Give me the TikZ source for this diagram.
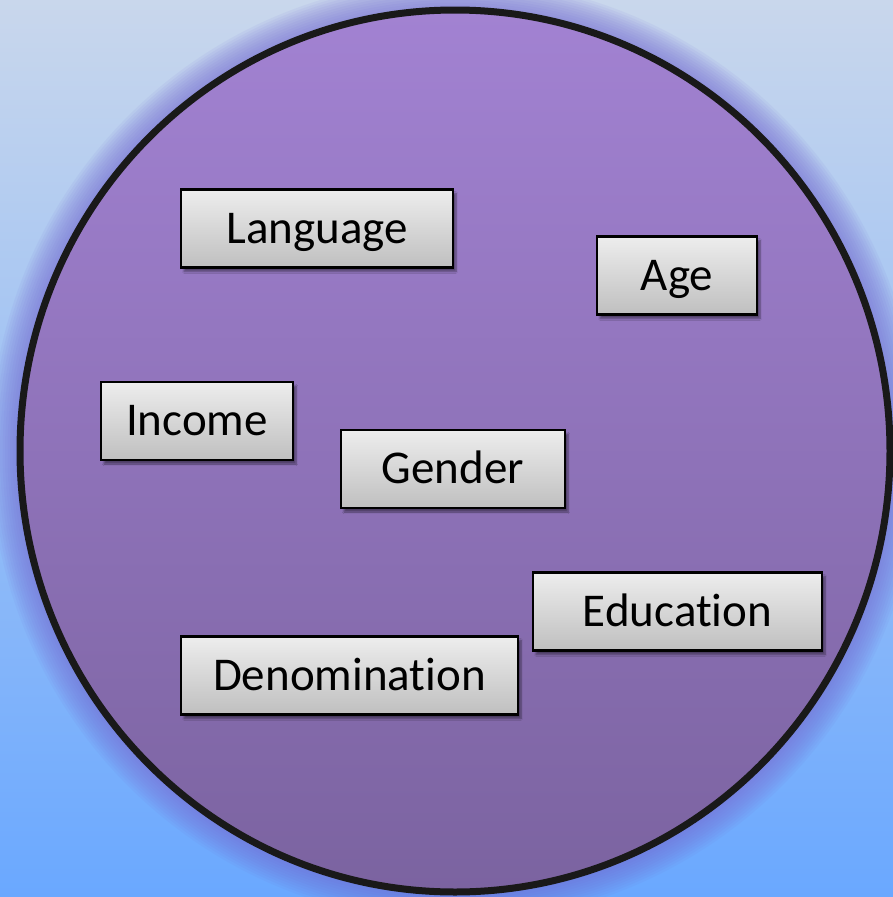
\documentclass[tikz,border=0pt]{standalone}
\usepackage{fontspec}
\setmainfont{Carlito}[Ligatures=NoCommon]
\usepackage{tikz}
\usetikzlibrary{shadows.blur}
\definecolor{bgtop}{RGB}{201,215,236}
\definecolor{bgmid}{RGB}{166,200,242}
\definecolor{bgbot}{RGB}{106,168,255}
\definecolor{circtop}{RGB}{162,130,210}
\definecolor{circbot}{RGB}{123,99,160}
\definecolor{glow}{RGB}{118,108,212}
\tikzset{attr/.style = {draw=black, line width=2.5pt, top color=black!7, bottom color=black!25,
  inner sep=0pt, minimum height=78pt, text height=34pt, text depth=5pt, font=\fontsize{47}{52}\selectfont,
  blur shadow={shadow xshift=3pt, shadow yshift=-4pt, shadow blur steps=6, shadow opacity=45}}}

\begin{document}
\begin{tikzpicture}[x=1pt,y=-1pt]
            \useasboundingbox (0,0) rectangle (893,897);
            \shade[top color=bgtop, middle color=bgmid, bottom color=bgbot] (0,0) rectangle (893,897);

            % soft glow round the circle
            \foreach \g in {1,...,12}
                \fill[glow, opacity=0.08] (455,451) ellipse [x radius=435pt+\g*2.5pt, y radius=441pt+\g*2.5pt];

            \shade[top color=circtop, bottom color=circbot, draw=black!90, line width=7pt]
                (455,451) ellipse [x radius=435pt, y radius=441pt];

            \node[attr, minimum width=272pt] (lang) at (317,228.5) {Language};
            \node[attr, minimum width=160pt] (age) at (677,275.5) {Age};
            \node[attr, minimum width=192pt] (income) at (197,421) {Income};
            \node[attr, minimum width=224pt] (gender) at (453,469) {Gender};
            \node[attr, minimum width=289pt] (edu) at (677.5,611.5) {Education};
            \node[attr, minimum width=337pt] (denom) at (349.5,675.5) {Denomination};

        \end{tikzpicture}
\end{document}
